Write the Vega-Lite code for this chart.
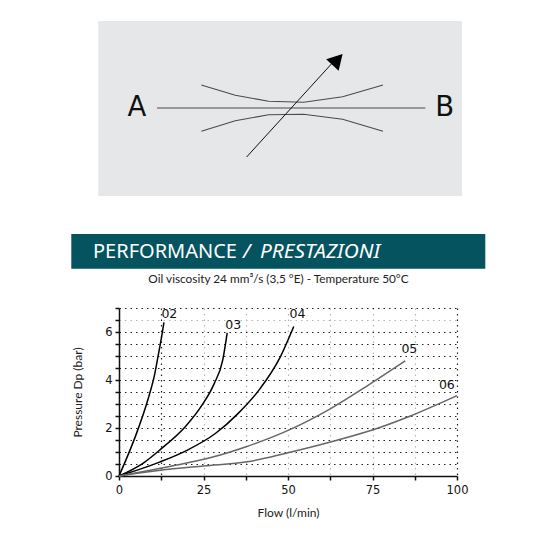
{
"$schema":"https://vega.github.io/schema/vega-lite/v6.json",
"padding":{"left":71,"top":21,"right":0,"bottom":0},
"background":"white",
"bounds":"flush",
"spacing":24,
"config":{"view":{"stroke":null}},
"datasets":{
"panel":[{"x":-20.7,"x2":343,"y":0,"y2":175}],
"center":[{"x":38,"y":87},{"x":306.3,"y":87}],
"top":[{"x":82.3,"y":64,"o":0},{"x":116.3,"y":74.3,"o":1},{"x":149.6,"y":80.3,"o":2},{"x":184.6,"y":81.3,"o":3},{"x":223.6,"y":75.7,"o":4},{"x":264,"y":64,"o":5}],
"bottom":[{"x":82.3,"y":110.3,"o":0},{"x":116.3,"y":99.7,"o":1},{"x":149.6,"y":93.7,"o":2},{"x":184.6,"y":93.3,"o":3},{"x":223.6,"y":98.3,"o":4},{"x":264,"y":110.3,"o":5}],
"arrow":[{"x":127.6,"y":136,"o":0},{"x":213,"y":42.3,"o":1}],
"head":[{"x":218.5,"y":38.5}],
"ab":[{"x":18,"y":87,"t":"A"},{"x":325.6,"y":87,"t":"B"}],
"band":[{"x":-47.7,"x2":366.3,"y":0,"y2":34.7}],
"curves":[
{"flow":0,"p":0,"s":"02"},{"flow":2,"p":0.65,"s":"02"},{"flow":4.8,"p":1.63,"s":"02"},{"flow":8.8,"p":3.3,"s":"02"},{"flow":10.5,"p":4.2,"s":"02"},{"flow":11.7,"p":5.1,"s":"02"},{"flow":12.6,"p":5.8,"s":"02"},{"flow":13.3,"p":6.4,"s":"02"},
{"flow":0,"p":0,"s":"03"},{"flow":7.3,"p":0.55,"s":"03"},{"flow":12.2,"p":1.1,"s":"03"},{"flow":19.6,"p":2.05,"s":"03"},{"flow":24.6,"p":2.96,"s":"03"},{"flow":28.2,"p":3.86,"s":"03"},{"flow":30.7,"p":4.84,"s":"03"},{"flow":32,"p":5.96,"s":"03"},
{"flow":0,"p":0,"s":"04"},{"flow":12,"p":0.58,"s":"04"},{"flow":20.1,"p":1.07,"s":"04"},{"flow":28.5,"p":1.77,"s":"04"},{"flow":35.2,"p":2.6,"s":"04"},{"flow":41.8,"p":3.65,"s":"04"},{"flow":47.5,"p":4.9,"s":"04"},{"flow":51.7,"p":6.23,"s":"04"},
{"flow":0,"p":0,"s":"05"},{"flow":10,"p":0.26,"s":"05"},{"flow":20,"p":0.54,"s":"05"},{"flow":28,"p":0.8,"s":"05"},{"flow":37.4,"p":1.21,"s":"05"},{"flow":49.7,"p":1.88,"s":"05"},{"flow":62.5,"p":2.8,"s":"05"},{"flow":73.9,"p":3.8,"s":"05"},{"flow":84.7,"p":4.8,"s":"05"},
{"flow":0,"p":0,"s":"06"},{"flow":12.2,"p":0.24,"s":"06"},{"flow":25,"p":0.42,"s":"06"},{"flow":37.9,"p":0.59,"s":"06"},{"flow":49.7,"p":0.96,"s":"06"},{"flow":64.5,"p":1.49,"s":"06"},{"flow":76.3,"p":1.98,"s":"06"},{"flow":86.2,"p":2.5,"s":"06"},{"flow":100,"p":3.35,"s":"06"}
],
"labels":[{"flow":14.9,"p":6.76,"s":"02"},{"flow":33.8,"p":6.3,"s":"03"},{"flow":52.8,"p":6.75,"s":"04"},{"flow":85.9,"p":5.3,"s":"05"},{"flow":97,"p":3.79,"s":"06"}]
},
"vconcat":[
{
"width":338,"height":189,
"layer":[
{"data":{"name":"panel"},"mark":{"type":"rect","color":"#e6e7e8"},"encoding":{
"x":{"field":"x","type":"quantitative","scale":{"domain":[0,338],"nice":false,"zero":false},"axis":null},
"x2":{"field":"x2"},
"y":{"field":"y","type":"quantitative","scale":{"domain":[189,0],"nice":false,"zero":false},"axis":null},
"y2":{"field":"y2"}}},
{"data":{"name":"center"},"mark":{"type":"line","color":"#4a4a4a","strokeWidth":1.1},"encoding":{"x":{"field":"x","type":"quantitative"},"y":{"field":"y","type":"quantitative"}}},
{"data":{"name":"top"},"mark":{"type":"line","color":"#4a4a4a","strokeWidth":1.1},"encoding":{"x":{"field":"x","type":"quantitative"},"y":{"field":"y","type":"quantitative"},"order":{"field":"o"}}},
{"data":{"name":"bottom"},"mark":{"type":"line","color":"#4a4a4a","strokeWidth":1.1},"encoding":{"x":{"field":"x","type":"quantitative"},"y":{"field":"y","type":"quantitative"},"order":{"field":"o"}}},
{"data":{"name":"arrow"},"mark":{"type":"line","color":"#111111","strokeWidth":1},"encoding":{"x":{"field":"x","type":"quantitative"},"y":{"field":"y","type":"quantitative"},"order":{"field":"o"}}},
{"data":{"name":"head"},"mark":{"type":"point","shape":"M0,-0.88L1,0.88L-1,0.88Z","filled":true,"color":"#000000","opacity":1,"size":289,"angle":43},"encoding":{"x":{"field":"x","type":"quantitative"},"y":{"field":"y","type":"quantitative"}}},
{"data":{"name":"ab"},"mark":{"type":"text","font":"DejaVu Sans","fontSize":27.5,"color":"#111111","baseline":"middle","align":"center"},"encoding":{"x":{"field":"x","type":"quantitative"},"y":{"field":"y","type":"quantitative"},"text":{"field":"t"}}}
]
},
{
"width":338,"height":50,
"encoding":{
"x":{"field":"x","type":"quantitative","scale":{"domain":[0,338],"nice":false,"zero":false},"axis":null},
"y":{"field":"y","type":"quantitative","scale":{"domain":[50,0],"nice":false,"zero":false},"axis":null}
},
"layer":[
{"data":{"name":"band"},"mark":{"type":"rect","color":"#04535f"},"encoding":{"x2":{"field":"x2"},"y2":{"field":"y2"}}},
{"data":{"values":[{"x":-26,"y":17.5,"t":"PERFORMANCE"}]},"mark":{"type":"text","font":"Noto Sans","fontSize":20,"color":"white","align":"left","baseline":"middle"},"encoding":{"text":{"field":"t"}}},
{"data":{"values":[{"x":124,"y":17.5,"t":"/"},{"x":141,"y":17.5,"t":"PRESTAZIONI"}]},"mark":{"type":"text","font":"Noto Sans","fontSize":20.8,"fontStyle":"italic","color":"white","align":"left","baseline":"middle"},"encoding":{"text":{"field":"t"}}},
{"data":{"values":[{"x":159.5,"y":45,"t":"Oil viscosity 24 mm³/s (3,5 °E) - Temperature 50°C"}]},"mark":{"type":"text","font":"Lato","fontSize":11.8,"color":"#222222","align":"center","baseline":"middle"},"encoding":{"text":{"field":"t"}}}
]
},
{
"width":338,"height":168,
"layer":[
{"data":{"name":"curves"},"mark":{"type":"line","interpolate":"monotone"},"encoding":{
"x":{"field":"flow","type":"quantitative","scale":{"domain":[0,100],"nice":false},"axis":{
"title":"Flow (l/min)","titleFont":"Lato","titleFontSize":12,"titleFontWeight":"normal","titleColor":"#222222","titlePadding":12,
"values":[0,12.5,25,37.5,50,62.5,75,87.5,100],"tickCount":9,
"labelExpr":"datum.value%25==0?format(datum.value,'d'):''",
"labelFont":"DejaVu Sans","labelFontSize":11.5,"labelColor":"#111111","labelPadding":4,"labelFlush":false,"labelOverlap":false,
"domainColor":"#111111","domainWidth":1.5,"tickColor":"#111111","tickWidth":1.5,"tickSize":4,
"grid":true,"gridDash":[1.5,4],"gridWidth":1.2,
"gridColor":{"condition":{"test":"datum.value==12.5||datum.value==100","value":"#222222"},"value":"#b5b5b5"}
}},
"y":{"field":"p","type":"quantitative","scale":{"domain":[0,7],"nice":false},"axis":{
"title":"Pressure   Dp (bar)","titleFont":"Lato","titleFontSize":12,"titleFontWeight":"normal","titleColor":"#222222","titlePadding":20,
"values":[0,0.5,1,1.5,2,2.5,3,3.5,4,4.5,5,5.5,6,6.5,7],"tickCount":15,
"labelExpr":"datum.value%2==0&&datum.value<7?format(datum.value,'d'):''",
"labelFont":"DejaVu Sans","labelFontSize":11.5,"labelColor":"#111111","labelPadding":3,"labelFlush":false,"labelOverlap":false,
"domainColor":"#111111","domainWidth":1.5,"tickColor":"#111111","tickWidth":1.5,"tickSize":4,
"grid":true,"gridDash":[1.5,4],"gridWidth":1.2,
"gridColor":{"condition":{"test":"datum.value==6.5","value":"#b5b5b5"},"value":"#222222"}
}},
"detail":{"field":"s"},
"color":{"field":"s","type":"nominal","legend":null,"scale":{"domain":["02","03","04","05","06"],"range":["#000000","#000000","#000000","#666666","#666666"]}},
"strokeWidth":{"field":"s","type":"nominal","legend":null,"scale":{"domain":["02","03","04","05","06"],"range":[1.5,1.5,1.5,0.9,0.9]}}
}},
{"data":{"name":"labels"},"mark":{"type":"text","font":"DejaVu Sans","fontSize":12.5,"color":"#111111","align":"center","baseline":"middle"},"encoding":{"x":{"field":"flow","type":"quantitative"},"y":{"field":"p","type":"quantitative"},"text":{"field":"s"}}}
]
}
]
}
